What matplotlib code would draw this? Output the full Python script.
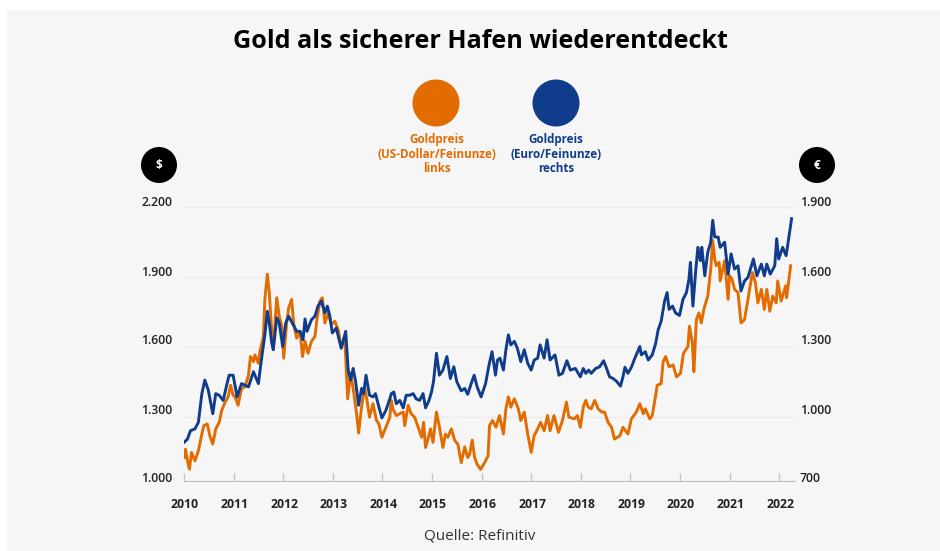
import matplotlib
matplotlib.use("Agg")
import matplotlib.pyplot as plt
from matplotlib.patches import Circle, Rectangle

plt.rcParams['font.family'] = ['Open Sans', 'DejaVu Sans']

# Goldpreis US-Dollar/Feinunze (links)
usd_dates = [2010.00, 2010.03, 2010.07, 2010.11, 2010.15, 2010.22, 2010.29, 2010.36, 2010.40, 2010.47,
             2010.52, 2010.58, 2010.64, 2010.71, 2010.76, 2010.83, 2010.89, 2010.94, 2010.99, 2011.03,
             2011.09, 2011.16, 2011.23, 2011.30, 2011.34, 2011.40, 2011.43, 2011.50, 2011.53, 2011.60,
             2011.63, 2011.68, 2011.72, 2011.77, 2011.80, 2011.87, 2011.92, 2011.97, 2012.01, 2012.07,
             2012.11, 2012.17, 2012.21, 2012.27, 2012.34, 2012.39, 2012.44, 2012.50, 2012.57, 2012.64,
             2012.68, 2012.74, 2012.79, 2012.84, 2012.91, 2012.97, 2013.04, 2013.11, 2013.17, 2013.24,
             2013.30, 2013.36, 2013.41, 2013.48, 2013.52, 2013.58, 2013.64, 2013.69, 2013.74, 2013.81,
             2013.88, 2013.93, 2013.99, 2014.07, 2014.15, 2014.18, 2014.21, 2014.28, 2014.35, 2014.42,
             2014.45, 2014.52, 2014.58, 2014.65, 2014.72, 2014.79, 2014.83, 2014.87, 2014.92, 2014.97,
             2015.02, 2015.09, 2015.15, 2015.22, 2015.27, 2015.32, 2015.39, 2015.46, 2015.52, 2015.59,
             2015.66, 2015.72, 2015.76, 2015.81, 2015.86, 2015.91, 2015.98, 2016.06, 2016.13, 2016.16,
             2016.22, 2016.29, 2016.36, 2016.44, 2016.49, 2016.54, 2016.59, 2016.66, 2016.74, 2016.79,
             2016.86, 2016.93, 2017.00, 2017.06, 2017.13, 2017.19, 2017.26, 2017.33, 2017.38, 2017.46,
             2017.55, 2017.63, 2017.71, 2017.76, 2017.87, 2017.93, 2017.99, 2018.05, 2018.10, 2018.15,
             2018.21, 2018.28, 2018.35, 2018.42, 2018.48, 2018.55, 2018.62, 2018.68, 2018.79, 2018.85,
             2018.95, 2019.02, 2019.12, 2019.19, 2019.26, 2019.30, 2019.39, 2019.44, 2019.51, 2019.54,
             2019.62, 2019.66, 2019.71, 2019.78, 2019.86, 2019.93, 2020.01, 2020.07, 2020.16, 2020.19,
             2020.25, 2020.28, 2020.33, 2020.38, 2020.43, 2020.48, 2020.56, 2020.62, 2020.66, 2020.70,
             2020.73, 2020.79, 2020.81, 2020.90, 2020.97, 2021.00, 2021.05, 2021.10, 2021.17, 2021.23,
             2021.30, 2021.37, 2021.46, 2021.52, 2021.57, 2021.64, 2021.70, 2021.75, 2021.81, 2021.87,
             2021.94, 2021.97, 2022.04, 2022.13, 2022.15, 2022.23]
usd_values = [1124, 1160, 1110, 1074, 1146, 1110, 1153, 1225, 1261, 1268,
              1218, 1182, 1247, 1275, 1326, 1362, 1384, 1434, 1391, 1384,
              1348, 1420, 1427, 1477, 1557, 1535, 1564, 1528, 1578, 1643,
              1802, 1910, 1831, 1658, 1593, 1809, 1730, 1687, 1550, 1701,
              1766, 1802, 1701, 1636, 1665, 1557, 1622, 1571, 1622, 1643,
              1715, 1795, 1809, 1701, 1744, 1694, 1708, 1672, 1593, 1643,
              1376, 1485, 1420, 1312, 1229, 1340, 1427, 1369, 1297, 1355,
              1283, 1268, 1211, 1254, 1297, 1369, 1333, 1304, 1312, 1319,
              1261, 1348, 1312, 1297, 1254, 1211, 1275, 1167, 1203, 1247,
              1189, 1319, 1254, 1167, 1225, 1211, 1247, 1196, 1182, 1102,
              1170, 1124, 1138, 1199, 1124, 1095, 1073, 1102, 1131, 1261,
              1283, 1254, 1304, 1225, 1333, 1384, 1340, 1376, 1333, 1283,
              1319, 1225, 1146, 1218, 1247, 1275, 1239, 1304, 1239, 1304,
              1232, 1283, 1362, 1297, 1290, 1304, 1254, 1340, 1369, 1340,
              1333, 1369, 1333, 1319, 1319, 1275, 1254, 1203, 1218, 1254,
              1225, 1290, 1319, 1355, 1312, 1333, 1290, 1304, 1391, 1434,
              1441, 1535, 1557, 1513, 1521, 1470, 1485, 1571, 1600, 1687,
              1614, 1492, 1715, 1744, 1701, 1759, 1816, 1932, 2054, 1975,
              1946, 1961, 1881, 1968, 1802, 1903, 1888, 1845, 1831, 1701,
              1715, 1802, 1917, 1874, 1787, 1845, 1759, 1845, 1751, 1816,
              1787, 1881, 1795, 1860, 1809, 1946]

# Goldpreis Euro/Feinunze (rechts)
eur_dates = [2010.00, 2010.07, 2010.13, 2010.22, 2010.29, 2010.36, 2010.42, 2010.49, 2010.58, 2010.64,
             2010.71, 2010.79, 2010.86, 2010.91, 2010.99, 2011.07, 2011.16, 2011.23, 2011.30, 2011.40,
             2011.50, 2011.56, 2011.63, 2011.68, 2011.72, 2011.77, 2011.80, 2011.87, 2011.92, 2011.99,
             2012.05, 2012.11, 2012.20, 2012.27, 2012.34, 2012.40, 2012.44, 2012.48, 2012.57, 2012.64,
             2012.70, 2012.77, 2012.84, 2012.89, 2012.94, 2012.99, 2013.07, 2013.17, 2013.26, 2013.31,
             2013.36, 2013.41, 2013.46, 2013.52, 2013.58, 2013.62, 2013.67, 2013.74, 2013.81, 2013.86,
             2013.93, 2013.99, 2014.07, 2014.15, 2014.18, 2014.23, 2014.28, 2014.35, 2014.42, 2014.48,
             2014.55, 2014.62, 2014.68, 2014.75, 2014.82, 2014.87, 2014.94, 2014.99, 2015.03, 2015.09,
             2015.15, 2015.22, 2015.30, 2015.37, 2015.44, 2015.50, 2015.59, 2015.66, 2015.72, 2015.79,
             2015.85, 2015.91, 2015.99, 2016.08, 2016.15, 2016.21, 2016.28, 2016.32, 2016.37, 2016.44,
             2016.49, 2016.54, 2016.59, 2016.66, 2016.72, 2016.79, 2016.86, 2016.93, 2017.00, 2017.06,
             2017.13, 2017.18, 2017.26, 2017.32, 2017.38, 2017.48, 2017.56, 2017.63, 2017.72, 2017.79,
             2017.89, 2017.99, 2018.05, 2018.10, 2018.16, 2018.21, 2018.30, 2018.38, 2018.46, 2018.52,
             2018.58, 2018.65, 2018.72, 2018.80, 2018.85, 2018.89, 2018.95, 2019.02, 2019.09, 2019.19,
             2019.22, 2019.30, 2019.36, 2019.44, 2019.51, 2019.56, 2019.62, 2019.69, 2019.74, 2019.78,
             2019.85, 2019.91, 2019.99, 2020.06, 2020.13, 2020.18, 2020.21, 2020.26, 2020.32, 2020.36,
             2020.41, 2020.44, 2020.50, 2020.56, 2020.62, 2020.66, 2020.70, 2020.77, 2020.81, 2020.90,
             2020.97, 2021.03, 2021.10, 2021.17, 2021.23, 2021.30, 2021.37, 2021.48, 2021.55, 2021.64,
             2021.70, 2021.75, 2021.82, 2021.91, 2021.95, 2021.99, 2022.07, 2022.14, 2022.18, 2022.25]
eur_values = [889, 903, 939, 947, 975, 1098, 1156, 1113, 1012, 1098,
              1091, 1069, 1134, 1177, 1177, 1084, 1141, 1134, 1127, 1192,
              1141, 1242, 1350, 1451, 1401, 1314, 1286, 1423, 1401, 1300,
              1401, 1430, 1394, 1365, 1365, 1329, 1418, 1365, 1415, 1430,
              1473, 1495, 1444, 1473, 1430, 1358, 1379, 1293, 1365, 1199,
              1156, 1206, 1149, 1048, 1120, 1098, 1177, 1091, 1084, 1098,
              1040, 994, 1026, 1076, 1098, 1105, 1055, 1069, 1037, 1091,
              1091, 1098, 1076, 1069, 1098, 1037, 1069, 1105, 1149, 1271,
              1177, 1199, 1257, 1163, 1213, 1149, 1110, 1120, 1095, 1141,
              1177, 1127, 1084, 1141, 1221, 1278, 1177, 1242, 1250, 1199,
              1286, 1350, 1307, 1322, 1293, 1235, 1286, 1228, 1199, 1242,
              1250, 1307, 1250, 1329, 1242, 1264, 1177, 1185, 1239, 1199,
              1206, 1170, 1206, 1185, 1199, 1185, 1206, 1213, 1239, 1206,
              1170, 1163, 1151, 1130, 1170, 1211, 1185, 1211, 1250, 1300,
              1264, 1278, 1242, 1264, 1314, 1372, 1408, 1495, 1531, 1459,
              1473, 1444, 1433, 1502, 1531, 1588, 1661, 1473, 1632, 1725,
              1668, 1725, 1603, 1704, 1747, 1841, 1769, 1769, 1725, 1747,
              1610, 1697, 1632, 1646, 1538, 1581, 1596, 1675, 1603, 1653,
              1603, 1653, 1610, 1646, 1762, 1675, 1725, 1689, 1747, 1848]

years = list(range(2010, 2023))
left_ticks = [1000, 1300, 1600, 1900, 2200]
left_labels = ['1.000', '1.300', '1.600', '1.900', '2.200']
right_ticks = [700, 1000, 1300, 1600, 1900]
right_labels = ['700', '1.000', '1.300', '1.600', '1.900']
label_rows = [479, 410, 341, 272, 202]

ORANGE = '#e36c00'
BLUE = '#0f3d8c'
PANEL = '#f6f6f6'

fig = plt.figure(figsize=(9.4, 5.51), dpi=100, facecolor='white')

# Hintergrund in Pixelkoordinaten
bg = fig.add_axes([0, 0, 1, 1])
bg.set_xlim(0, 940)
bg.set_ylim(551, 0)
bg.axis('off')
bg.add_patch(Rectangle((7, 10), 933, 541, color=PANEL, lw=0))

ax = fig.add_axes([184 / 940, 1 - 481 / 551, (795 - 184) / 940, (481 - 200) / 551])
ax.patch.set_alpha(0)
ax.set_xlim(2010, 2010 + (795 - 184) / 49.6)
ax.set_ylim(1000 + (486.5 - 481) * 300 / 70, 1000 + (486.5 - 200) * 300 / 70)

ax.set_yticks(left_ticks[1:])
ax.set_yticklabels([])
ax.grid(axis='y', color='#ebebeb', lw=1)
ax.set_axisbelow(True)
ax.tick_params(axis='y', length=0)
ax.set_xticks(years)
ax.set_xticklabels([])
ax.tick_params(axis='x', direction='in', length=6, width=1, color='#c4c4c4')
for side in ['top', 'left', 'right']:
    ax.spines[side].set_visible(False)
ax.spines['bottom'].set_color('#bdbdbd')

# Euro laeuft rechts, 300 Einheiten tiefer als die linke Skala
ax.plot(usd_dates, usd_values, color=ORANGE, lw=2.1, solid_joinstyle='round')
ax.plot(eur_dates, [v + 300 for v in eur_values], color=BLUE, lw=2.1, solid_joinstyle='round')

for lab, row in zip(left_labels, label_rows):
    bg.text(172, row, lab, ha='right', va='center', fontsize=8.8, fontweight='semibold', color='#222222')
for lab, row in zip(right_labels, label_rows):
    bg.text(800, row, lab, ha='left', va='center', fontsize=8.8, fontweight='semibold', color='#222222')
for yr in years:
    bg.text(yr * 49.6 - 2010 * 49.6 + 185, 504, str(yr), ha='center', va='center',
            fontsize=8.8, fontweight='bold', color='#222222')

bg.text(480, 41, 'Gold als sicherer Hafen wiederentdeckt', ha='center', va='center',
        fontsize=18.1, fontweight='bold', color='black')
bg.text(480, 536, 'Quelle: Refinitiv', ha='center', va='center', fontsize=11, color='#333333')

bg.add_patch(Circle((436, 103), 23.5, color=ORANGE, lw=0))
bg.add_patch(Circle((556, 103), 23.5, color=BLUE, lw=0))
for i, line in enumerate(['Goldpreis', '(US-Dollar/Feinunze)', 'links']):
    bg.text(436.5, 140 + i * 14.5, line, ha='center', va='center', fontsize=8.4,
            fontweight='bold', color=ORANGE)
for i, line in enumerate(['Goldpreis', '(Euro/Feinunze)', 'rechts']):
    bg.text(556, 139.5 + i * 14.5, line, ha='center', va='center', fontsize=8.4,
            fontweight='bold', color=BLUE)

bg.add_patch(Circle((159, 165), 18, color='black', lw=0))
bg.add_patch(Circle((817, 165), 18, color='black', lw=0))
bg.text(159, 165.5, '$', ha='center', va='center', fontsize=8.5, fontweight='bold', color='white')
bg.text(817, 165.5, '€', ha='center', va='center', fontsize=8.5, fontweight='bold', color='white')

fig.savefig('out.png', dpi=100)
